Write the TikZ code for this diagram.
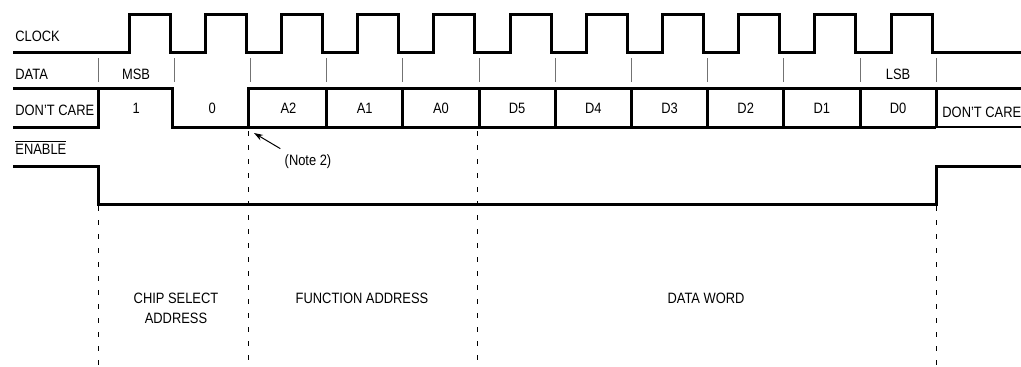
\documentclass[tikz,border=0pt]{standalone}
\usepackage{fontspec}
\setmainfont{Liberation Sans}[FakeStretch=0.86]
\usepackage{tikz}
\usetikzlibrary{arrows.meta,positioning,calc}
\newcommand{\lblfont}{\fontsize{7.5}{10}\selectfont}
\tikzset{
  wave/.style={draw=black,line width=1.5pt,line join=miter},
  thinwave/.style={draw=black,line width=0.6pt},
  tick/.style={draw=black!55,line width=0.5pt},
  guide/.style={draw=black,line width=0.5pt,dash pattern=on 2.5pt off 4.5pt},
  lbl/.style={font=\lblfont,inner sep=1pt,align=center},
  rowlbl/.style={lbl,anchor=west},
  notearr/.style={-{Stealth[length=4.5pt,width=3pt]},draw=black,line width=0.5pt}
}

\begin{document}
\begin{tikzpicture}[x=0.5pt,y=-0.5pt,font=\lblfont]
  \useasboundingbox[fill=white] (0,0) rectangle (1021,366);
  % row labels
  \node[rowlbl] (clk) at (13,36) {CLOCK};
  \node[rowlbl] (dat) at (13,74) {DATA};
  \node[rowlbl] (dcl) at (13,110) {DON'T CARE};
  \node[rowlbl] (en) at (13,147) {$\overline{\hbox{ENABLE}}$};
  % clock
  \draw[wave] (13,52) foreach \k in {0,...,10}{
      -- ({129+76.2*\k},52) -- ({129+76.2*\k},14)
      -- ({170+76.2*\k},14) -- ({170+76.2*\k},52)} -- (1021,52);
  % bit slots
  \foreach \k in {0,...,11}
    \draw[tick] ({98+76.2*\k},58) -- ({98+76.2*\k},82);
  \node[lbl] (msb) at ({98+76.2*0.5},74) {MSB};
  \node[lbl] (lsb) at ({98+76.2*10.5},74) {LSB};
  % data line
  \draw[wave] (13,127) -- (98,127) -- (98,88);
  \draw[wave] (13,88) -- (172,88) -- (172,127) -- (936,127);
  \draw[thinwave] (936,127) -- (1021,127);
  \draw[wave] (248,127) -- (248,88) -- (1021,88);
  \foreach \k in {3,...,11}
    \draw[wave] ({98+76.2*\k},88) -- ({98+76.2*\k},127);
  \foreach \b [count=\k from 0] in {1,0,A2,A1,A0,D5,D4,D3,D2,D1,D0}
    \node[lbl] (bit\k) at ({98+76.2*(\k+0.5)},108) {\b};
  \node[rowlbl] (dcr) at (940,112) {DON'T CARE};
  % enable
  \draw[wave] (13,166) -- (98,166) -- (98,204) -- (936,204) -- (936,166) -- (1021,166);
  % section guides
  \draw[guide] (98,206) -- (98,366);
  \draw[guide] (248,131) -- (248,366);
  \draw[guide] (477,131) -- (477,366);
  \draw[guide] (936,206) -- (936,366);
  % note
  \coordinate (a2start) at (254,133);
  \node[lbl] (note2) at (308,162) {(Note 2)};
  \draw[notearr] ($(note2.north west)+(-2,-4)$) -- (a2start);
  % sections
  \node[lbl] (csa) at (176,308) {CHIP SELECT\\ADDRESS};
  \node[lbl] (fa) at (362,298) {FUNCTION ADDRESS};
  \node[lbl] (dw) at (706,298) {DATA WORD};
\end{tikzpicture}
\end{document}
